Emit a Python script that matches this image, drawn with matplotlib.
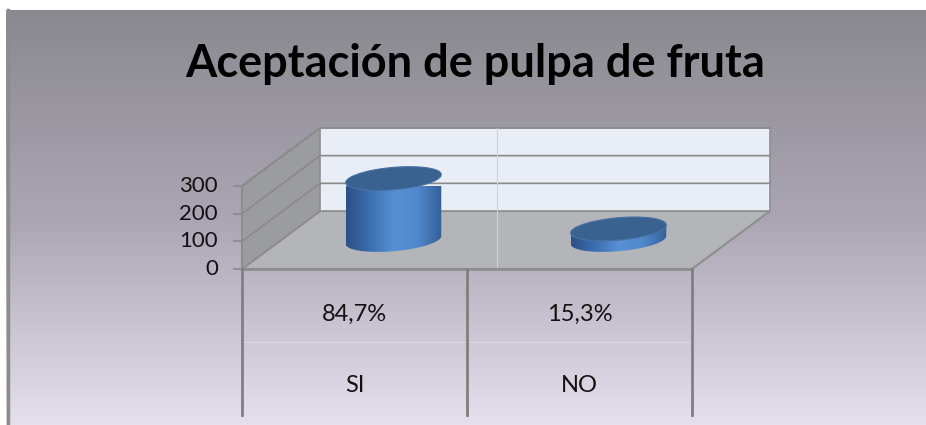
import numpy as np
import matplotlib.pyplot as plt
from matplotlib.patches import Polygon
from matplotlib.lines import Line2D
from matplotlib.colors import LinearSegmentedColormap
from matplotlib.transforms import blended_transform_factory

categorias = ["SI", "NO"]
valores = [222, 40]
porcentajes = ["84,7%", "15,3%"]
ticks_y = [0, 100, 200, 300]
titulo = "Aceptación de pulpa de fruta"

W, H = 926, 425
fig = plt.figure(figsize=(W / 100, H / 100), dpi=100)
fig.patch.set_facecolor("white")

# fondo con degradado (como el grafico de excel)
fondo = fig.add_axes([6 / W, 0, 1 - 6 / W, 1 - 10 / H])
grad = np.linspace(0, 1, 256).reshape(-1, 1)
cmap_fondo = LinearSegmentedColormap.from_list("fondo", ["#8a898f", "#aba5b3", "#e6e0ee"])
fondo.imshow(grad, aspect="auto", cmap=cmap_fondo, extent=[0, 1, 0, 1], origin="upper")
fondo.axis("off")
fig.add_artist(Line2D([8 / W, 8 / W], [0, 1 - 10 / H], color="#8c8c8c", lw=2.5))

# ejes "frontales" del grafico 3D
ax = fig.add_axes([242 / W, (H - 269) / H, 450 / W, 83 / H])
ax.set_xlim(0, len(categorias))
ax.set_ylim(0, ticks_y[-1])
ax.axis("off")

# desplazamiento de profundidad (78 px a la derecha, 58 px hacia arriba)
p0 = ax.transData.transform((0, 0))
DX, DY = ax.transData.inverted().transform(p0 + np.array([78, 58]))


def P(x, y, d):
    return (x + DX * d, y + DY * d)


n = len(categorias)
ymax = ticks_y[-1]
borde = "#8e8e8e"

suelo = Polygon([P(0, 0, 0), P(n, 0, 0), P(n, 0, 1), P(0, 0, 1)], closed=True,
                fc="#b3b5b8", ec=borde, lw=1.5, clip_on=False, zorder=1)
pared_izq = Polygon([P(0, 0, 0), P(0, 0, 1), P(0, ymax, 1), P(0, ymax, 0)], closed=True,
                    fc="#9b9c9f", ec=borde, lw=1.5, clip_on=False, zorder=1)
pared_fondo = Polygon([P(0, 0, 1), P(n, 0, 1), P(n, ymax, 1), P(0, ymax, 1)], closed=True,
                      fc="#e9edf5", ec=borde, lw=1.2, clip_on=False, zorder=1)
for p in [suelo, pared_izq, pared_fondo]:
    ax.add_patch(p)

# lineas de division
for v in ticks_y[1:]:
    a, b, c = P(0, v, 0), P(0, v, 1), P(n, v, 1)
    ax.plot([a[0], b[0], c[0]], [a[1], b[1], c[1]], color="#8a8a8a", lw=1.2,
            clip_on=False, zorder=2)
xv = ax.transData.inverted().transform((p0[0] + 255, p0[1]))[0]
ax.plot([xv, xv], [0, ymax + DY], color="#cfd2d8", lw=0.8, clip_on=False, zorder=2)

# marcas y etiquetas del eje y
tick = ax.transData.inverted().transform((p0[0] - 8, p0[1]))[0]
xlab = ax.transData.inverted().transform((p0[0] - 24, p0[1]))[0]
for v in ticks_y:
    ax.plot([tick, 0], [v, v], color=borde, lw=1.5, clip_on=False, zorder=2)
    ax.text(xlab, v, str(v), ha="right", va="center", fontsize=16, family="Lato",
            color="#111111")
ax.plot([0, n], [0, 0], color=borde, lw=2, clip_on=False, zorder=2)

# cilindros
cmap_cil = LinearSegmentedColormap.from_list(
    "cil", ["#2b5087", "#3d6fae", "#5890d6", "#5288cc", "#34609a"])
R, k = 0.2, 0.205
t = np.linspace(0, 2 * np.pi, 300)
tx = np.arctan2(DX * k, R)
arco = np.linspace(tx + np.pi, tx + 2 * np.pi, 150)

for i, v in enumerate(valores):
    xc = i + 0.5
    bx = xc + R * np.cos(arco) + DX * (0.5 + k * np.sin(arco))
    by = DY * (0.5 + k * np.sin(arco))
    cuerpo_x = np.concatenate([bx, bx[::-1]])
    cuerpo_y = np.concatenate([by, by[::-1] + v])
    cuerpo = Polygon(np.column_stack([cuerpo_x, cuerpo_y]), closed=True,
                     fc="none", ec="none", clip_on=False, zorder=3)
    ax.add_patch(cuerpo)
    img = ax.imshow(np.linspace(0, 1, 200).reshape(1, -1), cmap=cmap_cil, aspect="auto",
                    extent=[cuerpo_x.min(), cuerpo_x.max(), cuerpo_y.min(), cuerpo_y.max()],
                    zorder=3, clip_on=True)
    img.set_clip_path(cuerpo)
    ex = xc + R * np.cos(t) + DX * (0.5 + k * np.sin(t))
    ey = v + DY * (0.5 + k * np.sin(t))
    tapa = Polygon(np.column_stack([ex, ey]), closed=True, fc="#3a6291", ec="#466fa3",
                   lw=0.8, clip_on=False, zorder=4)
    ax.add_patch(tapa)

ax.set_xlim(0, n)
ax.set_ylim(0, ymax)

# tabla de datos debajo del grafico
tr = blended_transform_factory(ax.transData, fig.transFigure)
for x in range(n + 1):
    ax.plot([x, x], [(H - 269) / H, (H - 415) / H], color="#7f7f7f", lw=2,
            transform=tr, clip_on=False, zorder=2)
ax.plot([0, n], [(H - 342) / H] * 2, color="#ddd8e4", lw=0.8, transform=tr,
        clip_on=False, zorder=1)
for i, (cat, pct) in enumerate(zip(categorias, porcentajes)):
    ax.text(i + 0.5, (H - 321) / H, pct, ha="center", va="baseline", fontsize=17,
            family="Lato", transform=tr, color="#111111")
    ax.text(i + 0.5, (H - 392) / H, cat, ha="center", va="baseline", fontsize=17,
            family="Lato", transform=tr, color="#111111")

fig.text(475 / W, (H - 77) / H, titulo, ha="center", va="baseline", fontsize=32.5,
         fontweight="bold", family="Lato", color="black")

fig.savefig("out.png", dpi=100)
